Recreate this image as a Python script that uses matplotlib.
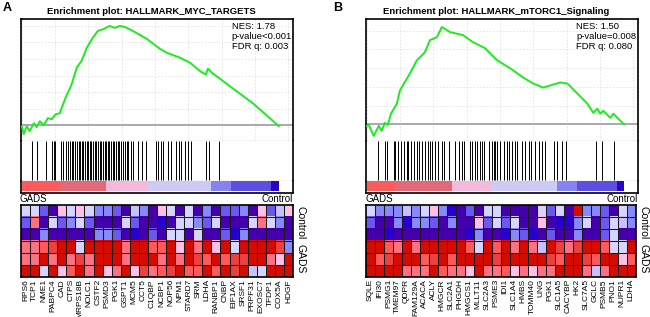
import numpy as np
import matplotlib
matplotlib.use('Agg')
import matplotlib.pyplot as plt
from matplotlib.colors import ListedColormap
from matplotlib.ticker import MultipleLocator

plt.rcParams['font.family'] = ['Liberation Sans', 'DejaVu Sans']

# GSEA heat map palette (index 0 = lowest, 11 = highest)
heat_palette = ['#4500AD', '#2700D1', '#6B58EF', '#8888FF', '#C7C1FF', '#D5D5FF',
                '#FFC0E5', '#FF8989', '#FF7080', '#FF5A5A', '#EF4040', '#D60C00']

# ---- Panel A: HALLMARK_MYC_TARGETS ----
a_title = 'Enrichment plot: HALLMARK_MYC_TARGETS'
a_stats = ['NES: 1.78', 'p-value<0.001', 'FDR q: 0.003']
a_rank = [0, 0.8, 1.9, 3.1, 4.7, 5.8, 7.0, 8.6, 10.1, 11.7, 13.2, 14.8, 15.6, 17.1,
          18.7, 19.5, 21.4, 23.3, 25.3, 27.6, 29.6, 31.9, 34.2, 36.2, 38.1, 40.1,
          43.2, 48.6, 53.7, 56.4, 61.5, 65.4, 69.6, 71.6, 72.4, 74.3, 77.0, 82.1,
          89.9, 100]
a_es = [-0.006, -0.054, -0.006, -0.036, 0.012, -0.012, 0.024, 0.0, 0.042, 0.036,
        0.066, 0.072, 0.108, 0.168, 0.222, 0.252, 0.348, 0.39, 0.468, 0.528, 0.57,
        0.582, 0.6, 0.588, 0.6, 0.594, 0.57, 0.522, 0.462, 0.438, 0.408, 0.378,
        0.324, 0.306, 0.342, 0.312, 0.282, 0.222, 0.132, -0.006]
a_hits = [3.8, 5.8, 9.5, 11.8, 12.5, 13.1, 15.3, 16.0, 17.2, 18.0, 18.6, 19.5, 20.1,
          20.8, 21.4, 22.1, 22.6, 23.3, 23.9, 24.5, 25.2, 25.8, 26.5, 27.0, 27.7,
          28.4, 29.0, 29.6, 30.3, 31.0, 31.6, 32.2, 32.8, 33.5, 34.1, 34.8, 35.4,
          36.0, 36.7, 37.3, 38.0, 38.7, 39.4, 40.0, 40.8, 41.5, 42.3, 43.2, 45.1,
          46.7, 48.4, 52.3, 52.9, 54.0, 54.9, 56.8, 58.1, 60.0, 61.1, 62.0, 63.3,
          64.6, 65.9, 71.7, 72.8, 76.7]
a_bar_edges = [0, 14.7, 32.8, 49.0, 73.7, 81.4, 97.0, 100]
a_genes = ['RPS6', 'TCP1', 'NME1', 'PABPC4', 'CAD', 'CTPS', 'MRPS18B', 'NOLC1',
           'CSTF2', 'PSMD3', 'PGK1', 'GSPT1', 'MCM5', 'CCT5', 'C1QBP', 'NCBP1',
           'NOP56', 'NPM1', 'STARD7', 'SRM', 'LDHA', 'RANBP1', 'CNBP', 'EIF1AX',
           'SRSF1', 'PRPF31', 'EXOSC7', 'TFDP1', 'COX5A', 'HDGF']
a_heat = [
    [5, 5, 2, 0, 6, 5, 6, 5, 3, 3, 2, 0, 4, 3, 0, 6, 5, 0, 5, 0, 3, 0, 2, 2, 3, 0, 6, 2, 4, 6],
    [2, 8, 0, 5, 2, 3, 5, 2, 0, 0, 0, 5, 2, 0, 0, 1, 0, 5, 5, 3, 2, 5, 0, 0, 0, 5, 8, 5, 3, 0],
    [0, 0, 3, 0, 0, 0, 0, 0, 3, 3, 2, 0, 1, 0, 2, 0, 5, 5, 0, 5, 0, 0, 2, 1, 3, 0, 0, 0, 0, 0],
    [8, 8, 9, 10, 11, 11, 5, 11, 11, 11, 11, 8, 11, 11, 9, 9, 11, 6, 11, 8, 11, 6, 11, 5, 11, 11, 11, 11, 10, 3],
    [8, 8, 11, 8, 11, 8, 10, 8, 11, 11, 11, 8, 11, 11, 11, 8, 11, 8, 11, 10, 9, 11, 9, 10, 10, 11, 11, 8, 6, 11],
    [11, 11, 5, 11, 6, 9, 11, 8, 11, 6, 8, 11, 6, 10, 8, 9, 10, 11, 9, 9, 11, 9, 11, 10, 11, 4, 5, 11, 11, 11],
]

# ---- Panel B: HALLMARK_mTORC1_Signaling ----
b_title = 'Enrichment plot: HALLMARK_mTORC1_Signaling'
b_stats = ['NES: 1.50', 'p-value=0.008', 'FDR q: 0.080']
b_rank = [0, 0.8, 2.7, 4.7, 5.8, 7.0, 8.2, 9.4, 11.7, 12.9, 14.0, 16.8, 19.5, 22.6,
          24.6, 27.3, 29.2, 32.4, 37.4, 41.3, 46.0, 50.7, 55.8, 60.8, 64.7, 68.6,
          71.3, 75.2, 78.0, 81.9, 85.8, 88.1, 89.7, 90.8, 92.0, 94.7, 95.9, 100]
b_es = [-0.009, -0.004, -0.063, -0.009, -0.036, 0.007, -0.004, 0.056, 0.110, 0.180,
        0.207, 0.272, 0.342, 0.385, 0.450, 0.466, 0.520, 0.493, 0.477, 0.439, 0.407,
        0.342, 0.299, 0.250, 0.218, 0.196, 0.207, 0.223, 0.218, 0.164, 0.110, 0.061,
        0.083, 0.056, 0.072, 0.034, 0.056, 0.0]
b_hits = [4.3, 6.9, 7.8, 10.4, 11.0, 12.1, 13.4, 14.3, 15.6, 16.2, 17.3, 18.2, 19.5,
          20.4, 21.4, 22.7, 24.0, 24.7, 25.3, 26.6, 27.9, 29.2, 29.9, 31.8, 34.4,
          35.7, 37.0, 37.7, 40.3, 40.9, 42.2, 42.9, 44.2, 44.8, 45.5, 47.4, 48.7,
          49.4, 50.0, 50.7, 52.0, 53.3, 54.6, 55.2, 56.5, 57.8, 58.5, 60.4, 61.7,
          63.0, 63.7, 65.6, 66.9, 68.2, 69.5, 72.8, 74.1, 76.0, 77.3, 89.0, 91.6, 96.2]
b_bar_edges = [0, 11.0, 33.1, 48.7, 74.1, 81.9, 97.5, 100]
b_genes = ['SQLE', 'IFI30', 'PSMG1', 'TMEM97', 'QDPR', 'FAM129A', 'ACACA', 'ACLY',
           'HMGCR', 'SLC2A1', 'PHGDH', 'HMGCS1', 'MLLT11', 'SLC2A3', 'PSME3', 'IDI1',
           'SLC1A4', 'HMBS', 'TOMM40', 'UNG', 'PGK1', 'SLC1A5', 'CACYBP', 'HK2',
           'SLC7A5', 'GCLC', 'PSMB5', 'PNO1', 'NUPR1', 'LDHA']
b_heat = [
    [5, 3, 3, 3, 4, 3, 5, 6, 3, 1, 0, 2, 0, 5, 5, 0, 0, 0, 0, 5, 2, 5, 0, 11, 3, 3, 2, 0, 5, 3],
    [2, 0, 0, 3, 1, 3, 3, 2, 0, 3, 0, 0, 6, 2, 5, 2, 5, 0, 0, 6, 0, 1, 1, 3, 5, 0, 2, 5, 4, 3],
    [0, 0, 1, 0, 0, 0, 0, 0, 0, 0, 0, 1, 3, 0, 0, 1, 3, 2, 1, 0, 2, 0, 0, 3, 0, 0, 2, 5, 0, 0],
    [11, 11, 9, 8, 11, 8, 11, 11, 11, 11, 11, 9, 5, 11, 9, 11, 8, 11, 8, 4, 11, 10, 8, 10, 11, 11, 9, 5, 5, 11],
    [11, 9, 10, 11, 11, 11, 9, 10, 11, 9, 11, 11, 11, 11, 10, 11, 11, 11, 11, 11, 10, 9, 11, 11, 10, 9, 11, 11, 6, 9],
    [11, 11, 11, 11, 8, 8, 8, 11, 9, 8, 8, 6, 11, 8, 8, 9, 6, 8, 6, 8, 8, 11, 11, 11, 8, 4, 8, 11, 11, 11],
]

# ranked list bar colours, same for both panels
bar_colors = ['#F95B5E', '#E2697A', '#F3BADB', '#CDCAF8', '#8682F2', '#5E4DE3', '#2A05C4']
row_groups = ['Control', 'GADS']

W, H = 650, 317


def px(x, y):
    return x / W, 1 - y / H


def box_axes(fig, x0, x1, y0, y1):
    l, t = px(x0, y0)
    r, b = px(x1, y1)
    return fig.add_axes([l, b, r - l, t - b])


def draw_panel(fig, letter, letter_x, box_x0, box_x1, title, title_x, stats, stats_x,
               rank, es, es_lim, hits, bar_edges, genes, heat, heat_x1):
    fig.text(*px(letter_x, 8), letter, fontsize=9, fontweight='bold', va='center')
    fig.text(*px(title_x, 12), title, fontsize=6.8, fontweight='bold',
             ha='center', va='center')

    # running enrichment score
    ax = box_axes(fig, box_x0, box_x1, 19, 141)
    ax.plot(rank, es, color='#1EEB1E', lw=1.4, zorder=3)
    ax.axhline(0, color='#A9A9A9', lw=1.4, zorder=2)
    ax.set_xlim(-0.3, 105.5)
    ax.set_ylim(es_lim)
    ax.xaxis.set_major_locator(MultipleLocator(12.95))
    ax.yaxis.set_major_locator(MultipleLocator(0.1))
    ax.grid(color='#E2E2E2', lw=0.6, ls=(0, (2, 2)))
    ax.tick_params(length=0, labelleft=False, labelbottom=False)
    for s in ['top', 'left', 'right']:
        ax.spines[s].set_linewidth(1.2)
    ax.spines['bottom'].set_color('#A9A9A9')
    ax.spines['bottom'].set_linewidth(0.9)
    for i, s in enumerate(stats):
        fig.text(*px(stats_x, 26.5 + 10 * i), s, fontsize=6.8, va='center')

    # hits
    ax = box_axes(fig, box_x0, box_x1, 141, 181)
    ax.vlines(hits, 0.02, 1, color='black', lw=0.7)
    ax.set_xlim(-0.3, 105.5)
    ax.set_ylim(0, 1)
    ax.set_xticks([])
    ax.set_yticks([])
    ax.spines['top'].set_visible(False)
    ax.spines['left'].set_linewidth(1.2)
    ax.spines['right'].set_linewidth(1.2)
    ax.spines['bottom'].set_color('#A9A9A9')
    ax.spines['bottom'].set_linewidth(0.9)

    # ranked list metric bar
    ax = box_axes(fig, box_x0, box_x1, 181, 192.5)
    edges = np.array(bar_edges)
    ax.bar(edges[:-1], 0.9, width=np.diff(edges), bottom=0.1, align='edge',
           color=bar_colors, lw=0)
    ax.set_xlim(-0.3, 105.5)
    ax.set_ylim(0, 1)
    ax.set_xticks([])
    ax.set_yticks([])
    ax.spines['top'].set_visible(False)
    for s in ['left', 'right', 'bottom']:
        ax.spines[s].set_linewidth(1.2)

    fig.text(*px(box_x0 - 1, 198.5), row_groups[1], fontsize=7, va='center')
    fig.text(*px(box_x1, 198.5), row_groups[0], fontsize=7, va='center', ha='right')

    # heat map
    ax = box_axes(fig, box_x0, heat_x1, 205, 277)
    n_rows, n_cols = len(heat), len(genes)
    ax.imshow(np.array(heat), cmap=ListedColormap(heat_palette), vmin=-0.5,
              vmax=11.5, aspect='auto', interpolation='nearest',
              extent=(0, n_cols, n_rows, 0))
    ax.vlines(np.arange(1, n_cols), 0, n_rows, color='#1a1a1a', lw=0.75)
    ax.hlines(np.arange(1, n_rows), 0, n_cols, color='#1a1a1a', lw=0.75)
    ax.set_ylim(n_rows, 0)
    ax.set_xlim(0, n_cols)
    ax.set_xticks(np.arange(n_cols) + 0.5)
    ax.set_xticklabels(genes, rotation=90, fontsize=6)
    ax.set_yticks([])
    ax.tick_params(length=0, pad=1.5)
    for s in ax.spines.values():
        s.set_linewidth(1.2)
    fig.text(*px(heat_x1 + 3, 223), row_groups[0], rotation=-90, fontsize=7.5,
             va='center', ha='left')
    fig.text(*px(heat_x1 + 3, 259), row_groups[1], rotation=-90, fontsize=7.5,
             va='center', ha='left')


fig = plt.figure(figsize=(6.5, 3.17), dpi=100)
draw_panel(fig, 'A', 3, 21, 293, a_title, 151.5, a_stats, 231.5,
           a_rank, a_es, (-0.096, 0.642), a_hits, a_bar_edges, a_genes, a_heat, 293)
draw_panel(fig, 'B', 333, 366, 638, b_title, 496.5, b_stats, 576.5,
           b_rank, b_es, (-0.090, 0.563), b_hits, b_bar_edges, b_genes, b_heat, 635.5)
plt.savefig('out.png', dpi=100)
